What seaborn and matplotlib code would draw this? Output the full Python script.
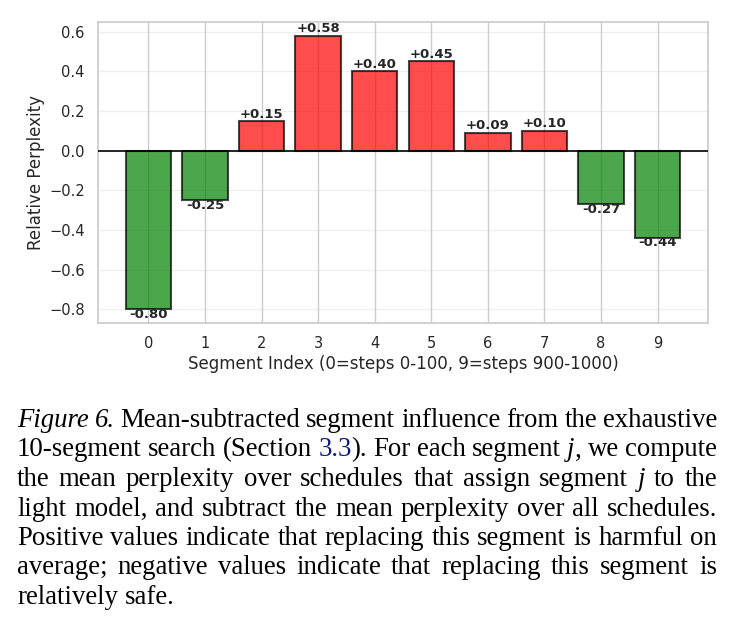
import re
import matplotlib
matplotlib.use("Agg")
import matplotlib.pyplot as plt
import seaborn as sns
import pandas as pd

# ---------------- data ----------------
segments = [str(i) for i in range(10)]
rel_ppl = [-0.80, -0.25, 0.15, 0.58, 0.40, 0.45, 0.09, 0.10, -0.27, -0.44]
xlabel = "Segment Index (0=steps 0-100, 9=steps 900-1000)"
ylabel = "Relative Perplexity"
caption_lines = [
    "_Figure_ _6._ Mean-subtracted segment influence from the exhaustive",
    "10-segment search (Section {3.3}). For each segment _j_, we compute",
    "the mean perplexity over schedules that assign segment _j_ to the",
    "light model, and subtract the mean perplexity over all schedules.",
    "Positive values indicate that replacing this segment is harmful on",
    "average; negative values indicate that replacing this segment is",
    "relatively safe.",
]

# ---------------- figure ----------------
sns.set_theme(style="whitegrid")
W, H = 740, 627
fig = plt.figure(figsize=(W / 100, H / 100), dpi=100)
ax = fig.add_axes([98 / W, 1 - 323 / H, 610 / W, 301 / H])

df = pd.DataFrame({"seg": segments, "val": rel_ppl})
palette = {s: ("red" if v > 0 else "green") for s, v in zip(segments, rel_ppl)}
sns.barplot(data=df, x="seg", y="val", hue="seg", palette=palette, legend=False,
            saturation=1, alpha=0.7, edgecolor="black", linewidth=1.5,
            width=0.8, ax=ax)

ax.axhline(0, color="black", linewidth=1.2, zorder=3)
ax.set_xlim(-0.89, len(segments) - 1 + 0.89)
ax.xaxis.grid(True, color=".8", linewidth=1.0)
ax.yaxis.grid(True, alpha=0.3)
ax.set_axisbelow(True)

for i, v in enumerate(rel_ppl):
    if v > 0:
        ax.text(i, v + 0.002, f"{v:+.2f}", ha="center", va="bottom",
                fontweight="bold", fontsize=9.5, color=".15")
    else:
        ax.text(i, v + 0.008, f"{v:+.2f}", ha="center", va="top",
                fontweight="bold", fontsize=9.5, color=".15")

ax.set_xlabel(xlabel, fontsize=12, color=".15", labelpad=3)
ax.set_ylabel(ylabel, fontsize=12, color=".15", labelpad=3)
ax.tick_params(axis="both", labelsize=10.5, colors=".15")

# ---------------- caption (justified) ----------------
serif = "Liberation Serif"
cap_size = 19.3
renderer = fig.canvas.get_renderer()
left_px, right_px = 17, 717
base0, lstep = 427, 29.5
space_px = 0.25 * cap_size * 100 / 72


def piece_kw(tag):
    if tag == "i":
        return dict(family=serif, style="italic", color="black")
    if tag == "b":
        return dict(family=serif, color="#0a1a78")
    return dict(family=serif, color="black")


def parse_word(word):
    parts = []
    for p in re.split(r"(_[^_]+_|\{[^}]+\})", word):
        if not p:
            continue
        if p.startswith("_"):
            parts.append((p[1:-1], "i"))
        elif p.startswith("{"):
            parts.append((p[1:-1], "b"))
        else:
            parts.append((p, "r"))
    return parts


for k, line in enumerate(caption_lines):
    words = [parse_word(w) for w in line.split(" ")]
    y = 1 - (base0 + k * lstep) / H
    made = []
    widths = []
    for parts in words:
        ts, ws = [], []
        for txt, tag in parts:
            t = fig.text(0, y, txt, fontsize=cap_size, va="baseline", ha="left",
                         **piece_kw(tag))
            ts.append(t)
            ws.append(t.get_window_extent(renderer).width)
        made.append((ts, ws))
        widths.append(sum(ws))
    last = k == len(caption_lines) - 1
    if last or len(words) == 1:
        gap = space_px
    else:
        gap = (right_px - left_px - sum(widths)) / (len(words) - 1)
    x = left_px
    for (ts, ws), wsum in zip(made, widths):
        xx = x
        for t, w in zip(ts, ws):
            t.set_x(xx / W)
            xx += w
        x += wsum + gap

fig.savefig("out.png", dpi=100)
